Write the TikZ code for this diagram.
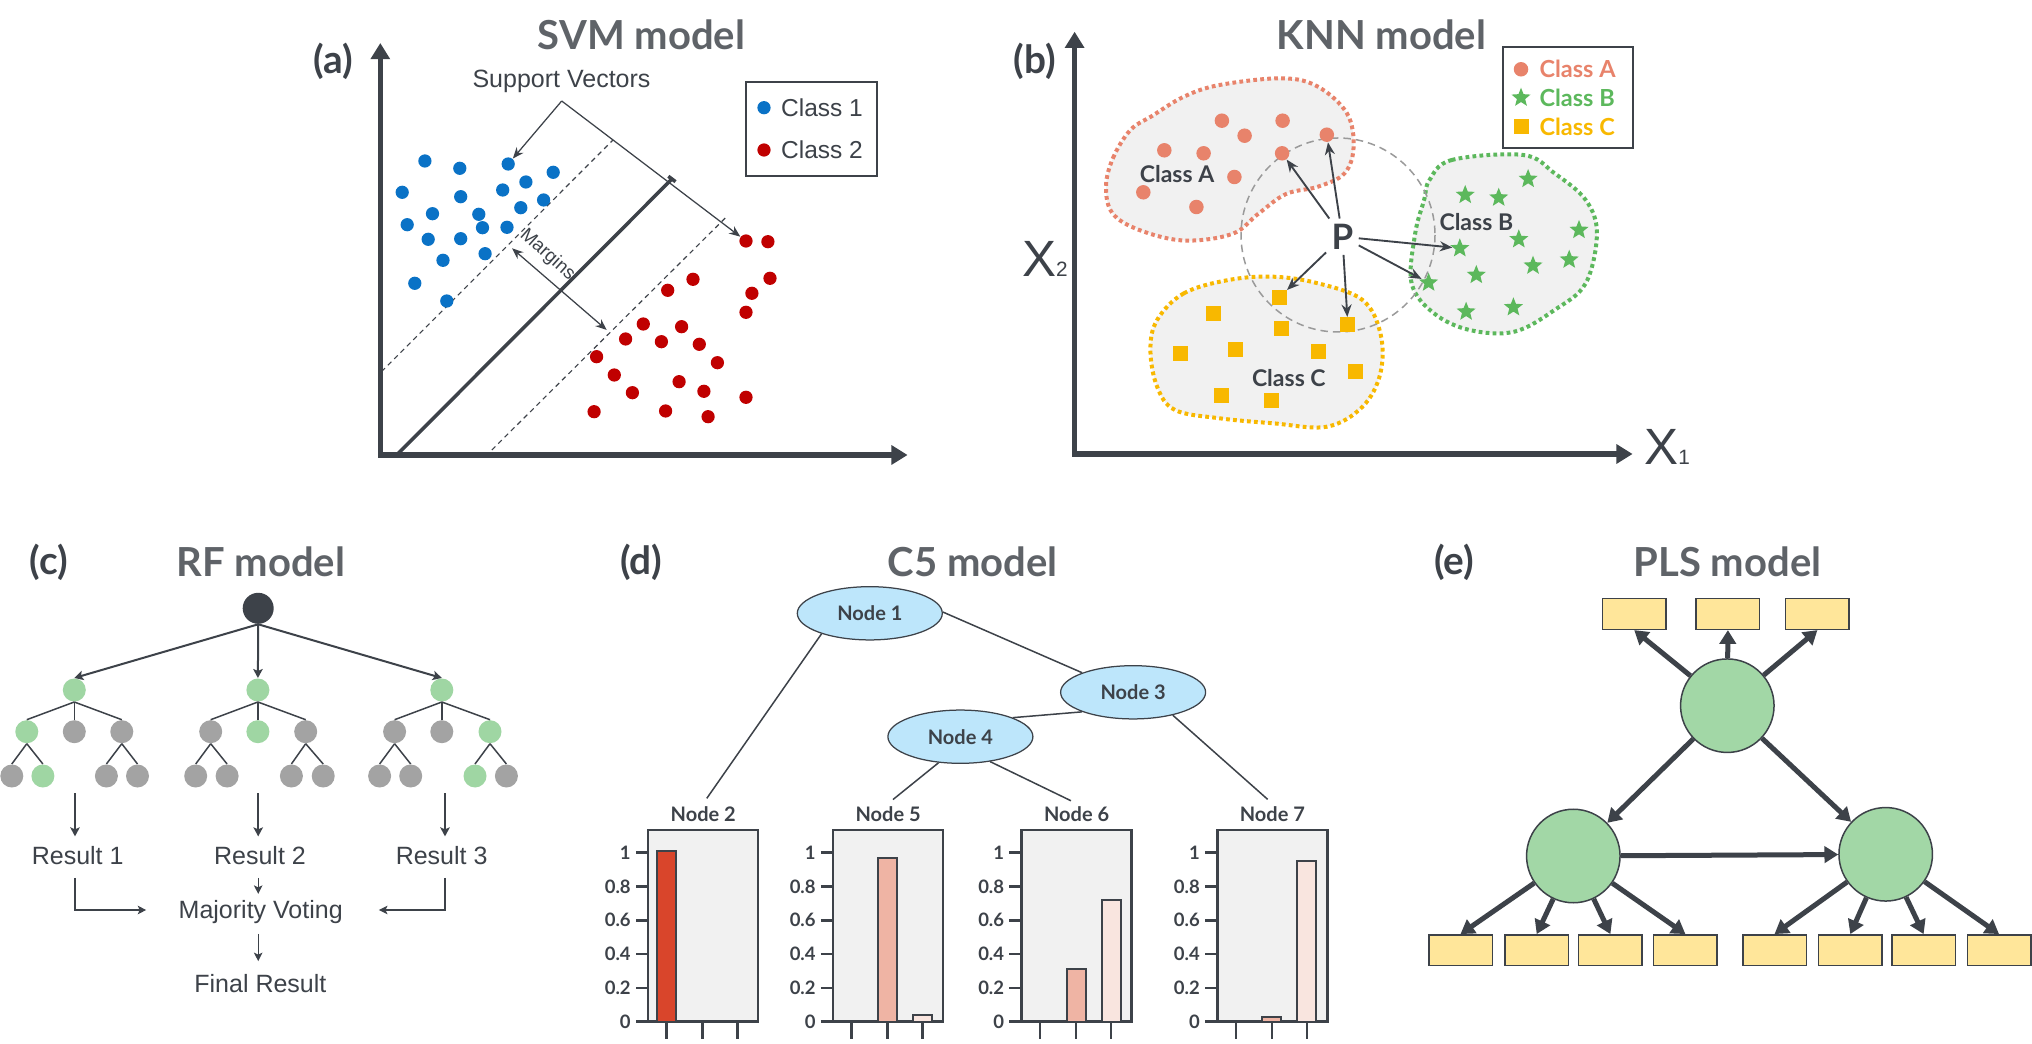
\documentclass[tikz,border=0pt]{standalone}
\usepackage{fontspec}
\setmainfont{Liberation Sans}
\newfontfamily\latof{Lato}
\usetikzlibrary{arrows.meta,shapes.geometric,calc}
\definecolor{ink}{HTML}{3D4249}
\definecolor{ttl}{HTML}{5F6368}
\definecolor{svmblue}{HTML}{0A72C6}
\definecolor{svmred}{HTML}{C00000}
\definecolor{knnA}{HTML}{E8836B}
\definecolor{knnB}{HTML}{5CB85C}
\definecolor{knnC}{HTML}{F8B800}
\definecolor{blobfill}{HTML}{F1F1F1}
\definecolor{rfgreen}{HTML}{9FD6A3}
\definecolor{rfgray}{HTML}{A3A3A3}
\definecolor{c5blue}{HTML}{BDE6FB}
\definecolor{barA}{HTML}{D9452B}
\definecolor{barB}{HTML}{EFB4A4}
\definecolor{barC}{HTML}{F9E5DF}
\definecolor{chartfill}{HTML}{F1F1F1}
\definecolor{plsbox}{HTML}{FFE69A}
\definecolor{plsgreen}{HTML}{A2D7A6}
\definecolor{circgray}{HTML}{9A9A9A}
\begin{document}
\begin{tikzpicture}[x=0.4pt,y=-0.4pt,
  title/.style={font=\latof\fontsize{16}{18}\selectfont\bfseries, text=ttl, inner sep=0},
  plabel/.style={font=\latof\fontsize{15.5}{18}\selectfont\bfseries, text=ink, inner sep=0},
  axisline/.style={draw=ink, line width=2.2pt, line join=miter, {Triangle[length=6.5pt,width=7.5pt]}-{Triangle[length=6.5pt,width=7.5pt]}},
  dotb/.style={circle, fill=svmblue, inner sep=0, minimum size=5.3pt},
  dotr/.style={circle, fill=svmred, inner sep=0, minimum size=5.3pt},
  svdash/.style={draw=ink, line width=0.45pt, dash pattern=on 2pt off 1.6pt},
  svarr/.style={draw=ink, line width=0.5pt, -{Stealth[length=4.5pt,width=3.6pt]}},
  svarrb/.style={draw=ink, line width=0.5pt, {Stealth[length=4.5pt,width=3.6pt]}-{Stealth[length=4.5pt,width=3.6pt]}},
  lgtext/.style={font=\fontsize{9.8}{11}\selectfont, text=ink, inner sep=0, anchor=west},
  kdot/.style={circle, fill=knnA, inner sep=0, minimum size=5.8pt},
  kstar/.style={star, star points=5, star point ratio=2.3, fill=knnB, inner sep=0, minimum size=8pt},
  ksq/.style={rectangle, fill=knnC, inner sep=0, minimum size=6pt},
  klg/.style={font=\latof\fontsize{9.4}{11}\selectfont\bfseries, inner sep=0, anchor=west},
  kcls/.style={font=\latof\fontsize{9.2}{11}\selectfont\bfseries, text=ink, inner sep=0},
  blob/.style={line width=1.6pt, dash pattern=on 1.5pt off 1.3pt, fill=blobfill},
  knnarr/.style={draw=ink, line width=0.75pt, -{Stealth[length=5pt,width=4pt]}},
  rfroot/.style={circle, fill=ink, inner sep=0, minimum size=12.4pt},
  rfn/.style={circle, inner sep=0, minimum size=9.2pt},
  rfedge/.style={draw=ink, line width=0.6pt},
  rfarr/.style={draw=ink, line width=0.8pt, -{Stealth[length=3.6pt,width=3.8pt,inset=0.8pt]}},
  rfarrt/.style={draw=ink, line width=0.5pt, -{Stealth[length=3.4pt,width=3.4pt,inset=0.8pt]}},
  rftext/.style={font=\fontsize{10}{12}\selectfont, text=ink, inner sep=0, text height=7.1pt, text depth=0pt},
  c5node/.style={ellipse, draw=ink, line width=0.5pt, fill=c5blue, minimum width=58pt, minimum height=21.3pt, inner sep=0, font=\latof\fontsize{8}{10}\selectfont\bfseries, text=ink},
  c5lab/.style={font=\latof\fontsize{8}{10}\selectfont\bfseries, text=ink, inner sep=1pt},
  c5line/.style={draw=ink, line width=0.6pt},
  ticklab/.style={font=\latof\fontsize{7.4}{9}\selectfont\bfseries, text=ink, inner sep=0, anchor=east},
  plsb/.style={rectangle, draw=ink, line width=0.6pt, fill=plsbox, minimum width=25.4pt, minimum height=12.3pt, inner sep=0},
  plsc/.style={circle, draw=ink, line width=0.6pt, fill=plsgreen, minimum size=37.4pt, inner sep=0},
  plsarr/.style={draw=ink, line width=2pt, -{Triangle[length=5.5pt,width=6.5pt]}}
]
\fill[white] (0,0) rectangle (2032,1044);
\useasboundingbox (0,0) rectangle (2032,1044);

%================ (a) SVM =================
\node[plabel] (la) at (333,61) {(a)};
\node[title] (ta) at (641.5,35) {SVM model};
\coordinate (aY) at (380.3,43);
\coordinate (aO) at (380.3,455);
\coordinate (aX) at (907.6,455);
\draw[axisline] (aY) -- (aO) -- (aX);
\draw[svdash] (381.5,371.7) -- (613,140);
\draw[svdash] (491.8,450) -- (726.6,216.7);
\draw[draw=ink, line width=1.4pt] (398.4,453.3) -- (671.9,179);
\draw[draw=ink, line width=1.4pt] (668.3,176.3) -- (675.5,181.7);
\foreach \x/\y [count=\i] in {424.9/161, 459.8/168.3, 508.2/164, 553.2/172.3, 402.2/192.3, 460.7/196.7, 502.7/190, 525.9/182, 543.6/200, 432.5/213.7, 478.8/214.3, 520.8/207.7, 407.2/224.7, 482.5/227.7, 507/227.3, 428.2/239.3, 460.7/238.7, 443/260.3, 485.1/253.7, 414.8/283.3, 446.8/301}
  \node[dotb] (sb\i) at (\x,\y) {};
\foreach \x/\y [count=\i] in {746/241, 767.9/241.7, 770/278.3, 751.9/293.3, 746/312.3, 693/279.3, 667.7/290.3, 643.3/324, 681.6/326.7, 625.6/339, 661.4/341.7, 699.3/344.3, 717.4/362.7, 596.6/356.7, 614.3/375, 679.1/381.7, 703.9/391.3, 632.4/392.7, 746/397.3, 594.1/411.7, 665.6/411, 708.1/416.7}
  \node[dotr] (sr\i) at (\x,\y) {};
\node[font=\fontsize{10}{12}\selectfont, text=ink, inner sep=0, anchor=base] (svt) at (561.5,88) {Support Vectors};
\coordinate (sva) at (561.7,101);
\draw[svarr] (sva) -- (sb3);
\draw[svarr] (sva) -- (sr1);
\coordinate (mg1) at (512,248.3);
\coordinate (mg2) at (606.7,330);
\draw[svarrb] (mg1) -- (mg2);
\node[font=\fontsize{7.5}{9}\selectfont, text=ink, rotate=-42, inner sep=0] (mgt) at (547.5,255) {Margins};
\draw[draw=ink, line width=0.8pt] (745.6,81.7) rectangle (876.9,175.7);
\node[dotb] (lg1) at (764,107.7) {};
\node[lgtext] (lgt1) at (780.7,107.7) {Class 1};
\node[dotr] (lg2) at (764,150) {};
\node[lgtext] (lgt2) at (780.7,150) {Class 2};

%================ (b) KNN =================
\node[plabel] (lb) at (1035,61) {(b)};
\node[title] (tb) at (1381.5,35) {KNN model};
\coordinate (bY) at (1074.6,31.7);
\coordinate (bO) at (1074.6,454);
\coordinate (bX) at (1632.6,454);
\draw[axisline] (bY) -- (bO) -- (bX);
\node[font=\fontsize{20.4}{22}\selectfont, text=ink, inner sep=0, anchor=base west] (x2) at (1021.7,276.7) {X{\fontsize{8.3}{9}\selectfont 2}};
\node[font=\fontsize{20.4}{22}\selectfont, text=ink, inner sep=0, anchor=base west] (x1) at (1643.8,465) {X{\fontsize{8.3}{9}\selectfont 1}};
% blobs
\draw[blob, draw=knnA] plot[smooth cycle, tension=0.6] coordinates {(1106,186.7) (1113,158) (1130.4,130) (1152,116) (1183.9,96.7) (1219.6,85) (1282.1,78.3) (1317.9,86.7) (1346.9,113.3) (1353.6,146.7) (1344.6,173.3) (1317.9,186.7) (1286,194) (1258,214) (1232,234) (1183.9,240.5) (1139.3,230) (1112.5,213.3)};
\draw[blob, draw=knnB] plot[smooth cycle, tension=0.6] coordinates {(1429.5,180) (1451.8,160) (1523.2,155) (1554.5,173.3) (1585.7,200) (1596.9,233.3) (1585.7,283.3) (1554.5,310) (1514.3,331.7) (1469.6,330) (1433.9,313.3) (1411.6,283.3) (1415.2,233.3) (1424.1,200)};
\draw[blob, draw=knnC] plot[smooth cycle, tension=0.6] coordinates {(1157.1,320) (1183.9,293.3) (1228.6,280) (1273.2,276.7) (1317.9,283.3) (1362.5,300) (1380.4,333.3) (1380.4,373.3) (1362.5,406.7) (1326.8,426.7) (1273.2,423.3) (1219.6,418.3) (1175,410) (1157.1,386.7) (1150.4,350)};
\draw[draw=circgray, line width=0.6pt, dash pattern=on 3pt off 2pt] (1338,235) circle[radius=97];
\foreach \x/\y [count=\i] in {1221.9/120.7, 1282.6/120.7, 1244.6/135.7, 1326.8/134.7, 1164.3/150.3, 1203.6/153.3, 1282.1/153.3, 1234.4/177, 1143.3/192.3, 1196.4/207}
  \node[kdot] (kA\i) at (\x,\y) {};
\foreach \x/\y [count=\i] in {1528.1/179, 1465.2/195, 1498.7/197.7, 1579/230, 1459.8/248.3, 1518.8/239.3, 1569.2/259.7, 1533/265.7, 1476.3/275, 1428.6/282.7, 1466.1/311.7, 1513.4/307.3}
  \node[kstar] (kB\i) at (\x,\y) {};
\foreach \x/\y [count=\i] in {1279/297.7, 1213.8/313.3, 1281.3/328.7, 1347.8/325, 1180.8/353.7, 1235.3/350, 1318.3/352, 1355.8/372, 1221/396, 1271.9/401}
  \node[ksq] (kC\i) at (\x,\y) {};
\node[kcls] (kla) at (1177,174) {Class A};
\node[kcls] (klb) at (1476.3,221.7) {Class B};
\node[kcls] (klc) at (1288.8,378.3) {Class C};
\node[font=\latof\fontsize{14}{16}\selectfont\bfseries, text=ink, inner sep=2pt] (kP) at (1342.4,236.7) {P};
\foreach \t in {kA7,kA4,kB5,kB10,kC1,kC4}
  \draw[knnarr] (kP) -- (\t);
\draw[draw=ink, line width=0.8pt] (1503,46.7) rectangle (1632.6,148.3);
\node[kdot] (klg1) at (1521,69.3) {};
\node[klg, text=knnA] (klgt1) at (1539,69.3) {Class A};
\node[kstar] (klg2) at (1521,97.7) {};
\node[klg, text=knnB] (klgt2) at (1539,97.7) {Class B};
\node[ksq] (klg3) at (1521,126.7) {};
\node[klg, text=knnC] (klgt3) at (1539,126.7) {Class C};

%================ (c) RF =================
\node[plabel] (lc) at (49,562.5) {(c)};
\node[title] (tc) at (260.7,562) {RF model};
\node[rfroot] (c0) at (258.2,608.3) {};
\foreach \n/\x in {1/74.3, 2/257.9, 3/441.8}
  \node[rfn, fill=rfgreen] (c\n) at (\x,690) {};
\foreach \n/\x/\c in {11/26.8/rfgreen, 12/74.3/rfgray, 13/121.8/rfgray, 21/210.7/rfgray, 22/257.9/rfgreen, 23/305.7/rfgray, 31/394.6/rfgray, 32/441.8/rfgray, 33/490/rfgreen}
  \node[rfn, fill=\c] (c\n) at (\x,731.7) {};
\foreach \n/\x/\c in {111/11.8/rfgray, 112/42.9/rfgreen, 131/106.4/rfgray, 132/137.5/rfgray, 211/195.7/rfgray, 212/227.1/rfgray, 231/291.4/rfgray, 232/323.2/rfgray, 311/379.6/rfgray, 312/410.7/rfgray, 331/475/rfgreen, 332/506.4/rfgray}
  \node[rfn, fill=\c] (c\n) at (\x,776) {};
\foreach \p in {1,2,3} {
  \draw[rfarr] (c0.south) -- (c\p.north);
  \foreach \q in {1,2,3} {\draw[rfedge] (c\p.south) -- (c\p\q.north);}
  \foreach \q in {1,3} {\foreach \r in {1,2} {\draw[rfedge] (c\p\q.south) -- (c\p\q\r.north);}}
}
\coordinate (rt1) at (75,793.3);
\coordinate (rt2) at (258.2,793.3);
\coordinate (rt3) at (445,793.3);
\node[rftext] (res1) at (77.7,855.5) {Result 1};
\node[rftext] (res2) at (260,855.5) {Result 2};
\node[rftext] (res3) at (441.6,855.5) {Result 3};
\node[rftext] (maj) at (260.7,910) {Majority Voting};
\node[rftext] (fin) at (260.4,984) {Final Result};
\draw[rfarr, shorten >=3.9pt] (rt1) -- (rt1 |- res1.north);
\draw[rfarr, shorten >=3.9pt] (rt2) -- (rt2 |- res2.north);
\draw[rfarr, shorten >=3.9pt] (rt3) -- (rt3 |- res3.north);
\draw[rfarrt, shorten <=5.2pt, shorten >=2.7pt] (res2.south -| rt2) -- (maj.north -| rt2);
\draw[rfarrt, shorten <=5.8pt, shorten >=5.4pt] (maj.south -| rt2) -- (fin.north -| rt2);
\draw[rfarrt, shorten <=5.2pt, shorten >=12.8pt] (res1.south -| rt1) |- (maj.west);
\draw[rfarrt, shorten <=5.2pt, shorten >=14.3pt] (res3.south -| rt3) |- (maj.east);

%================ (d) C5 =================
\node[plabel] (ld) at (641.2,562.5) {(d)};
\node[title] (td) at (972.9,562) {C5 model};
\foreach \L/\lab in {648.2/2, 833.1/5, 1021.6/6, 1217.3/7} {
  \filldraw[fill=chartfill, draw=ink, line width=1pt] (\L,830) rectangle ({\L+110},1021.7);
  \foreach \v in {0,0.2,0.4,0.6,0.8,1} {
    \draw[ink, line width=1pt] ({\L-12.2},{1021.7-\v*169}) -- (\L,{1021.7-\v*169});
  }
  \node[ticklab] at ({\L-17},1021.7) {0};
  \node[ticklab] at ({\L-17},{1021.7-0.2*169}) {0.2};
  \node[ticklab] at ({\L-17},{1021.7-0.4*169}) {0.4};
  \node[ticklab] at ({\L-17},{1021.7-0.6*169}) {0.6};
  \node[ticklab] at ({\L-17},{1021.7-0.8*169}) {0.8};
  \node[ticklab] at ({\L-17},{1021.7-169}) {1};
  \foreach \o in {18.5,54.5,89.5} {
    \draw[ink, line width=1pt] ({\L+\o},1021.7) -- ({\L+\o},1039.3);
  }
  \node[c5lab] (lab\lab) at ({\L+55},814) {Node \lab};
}
% bars
\filldraw[fill=barA, draw=ink, line width=0.8pt] ({648.2+9},1021.7) rectangle ({648.2+28},{1021.7-1.01*169});
\filldraw[fill=barB, draw=ink, line width=0.8pt] ({833.1+45},1021.7) rectangle ({833.1+64},{1021.7-0.97*169});
\filldraw[fill=barC, draw=ink, line width=0.8pt] ({833.1+80},1021.7) rectangle ({833.1+99},{1021.7-0.04*169});
\filldraw[fill=barB, draw=ink, line width=0.8pt] ({1021.6+45},1021.7) rectangle ({1021.6+64},{1021.7-0.31*169});
\filldraw[fill=barC, draw=ink, line width=0.8pt] ({1021.6+80},1021.7) rectangle ({1021.6+99},{1021.7-0.72*169});
\filldraw[fill=barB, draw=ink, line width=0.8pt] ({1217.3+45},1021.7) rectangle ({1217.3+64},{1021.7-0.03*169});
\filldraw[fill=barC, draw=ink, line width=0.8pt] ({1217.3+80},1021.7) rectangle ({1217.3+99},{1021.7-0.95*169});
\node[c5node] (n1) at (869.8,613.3) {Node 1};
\node[c5node] (n3) at (1133.1,692.3) {Node 3};
\node[c5node] (n4) at (960.4,736.7) {Node 4};
\draw[c5line, shorten >=2.5pt] (n1.203) -- (lab2.north);
\draw[c5line] (n1.1) -- (n3.159);
\draw[c5line] (n3.201) -- (n4.20);
\draw[c5line, shorten >=2.5pt] (n4.230) -- (lab5.north);
\draw[c5line, shorten >=2.5pt] (n4.320) -- (lab6.north);
\draw[c5line, shorten >=2.5pt] (n3.330) -- (lab7.north);

%================ (e) PLS =================
\node[plabel] (le) at (1454.4,562.5) {(e)};
\node[title] (te) at (1727.5,562) {PLS model};
\node[plsc] (pc0) at (1727.3,705.7) {};
\node[plsc] (pc1) at (1573.3,856) {};
\node[plsc] (pc2) at (1885.7,854.3) {};
\foreach \x [count=\i] in {1634.2,1727.9,1817.4}
  \node[plsb] (pt\i) at (\x,614) {};
\foreach \x [count=\i] in {1460.5,1536.7,1610.4,1685.4,1774.5,1850.3,1923.6,1999}
  \node[plsb] (pb\i) at (\x,950.2) {};
\foreach \i in {1,2,3} \draw[plsarr] (pc0) -- (pt\i.south);
\draw[plsarr] (pc0) -- (pc1);
\draw[plsarr] (pc0) -- (pc2);
\draw[plsarr] (pc1) -- (pc2);
\foreach \i in {1,2,3,4} \draw[plsarr] (pc1) -- (pb\i.north);
\foreach \i in {5,6,7,8} \draw[plsarr] (pc2) -- (pb\i.north);
\end{tikzpicture}
\end{document}
